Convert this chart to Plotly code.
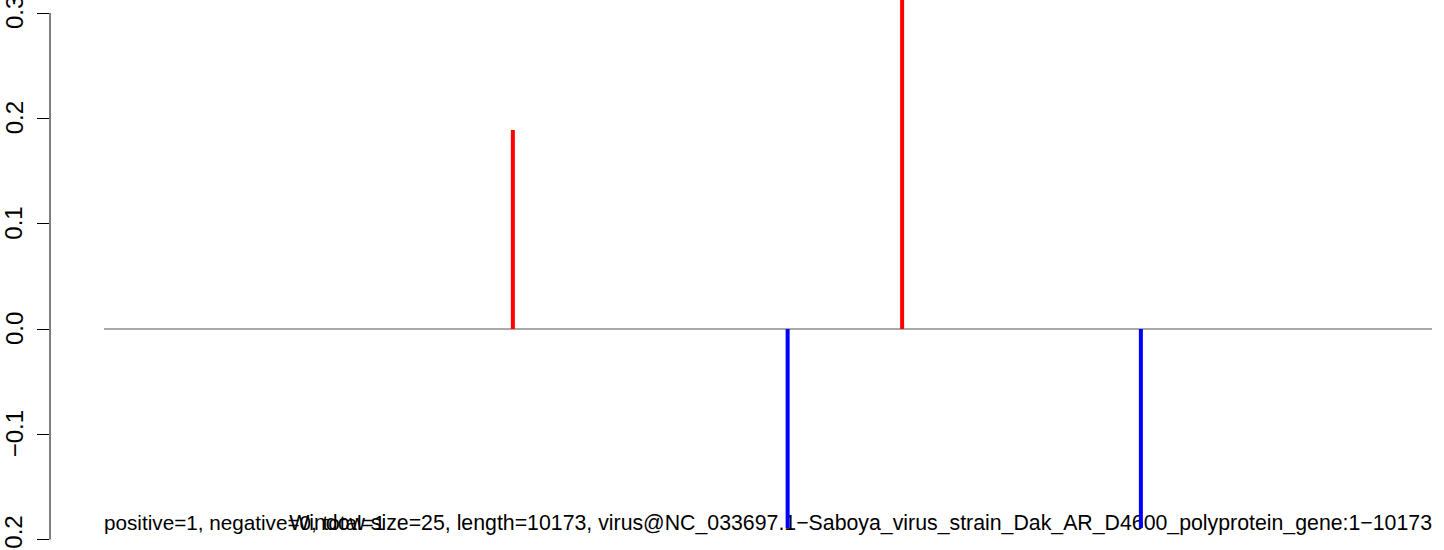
import plotly.graph_objects as go

# ---- data ----
n_windows = 407                      # 10173 / 25 windows
pos_x = [126, 245]                   # positive windows (red)
pos_y = [0.189, 0.36]
neg_x = [210, 318]                   # negative windows (blue)
neg_y = [-0.189, -0.189]
ytick_vals = [-0.2, -0.1, 0.0, 0.1, 0.2, 0.3]
ytick_text = ["\u22120.2", "\u22120.1", "0.0", "0.1", "0.2", "0.3"]
left_note = "positive=1, negative=0, total=1"
right_note = ("Window size=25, length=10173, virus@NC_033697.1\u2212Saboya_virus_strain_"
              "Dak_AR_D4600_polyprotein_gene:1\u221210173")

FONT = "Liberation Sans, Arial, Helvetica, sans-serif"
W, H = 1444, 550
ML = 50


def segs(xs, ys):
    X, Y = [], []
    for x, y in zip(xs, ys):
        X += [x, x, None]
        Y += [0, y, None]
    return X, Y


fig = go.Figure()

# baseline
fig.add_trace(go.Scatter(x=[1, n_windows], y=[0, 0], mode="lines",
                         line=dict(color="#555555", width=1), hoverinfo="skip"))

# bottom texts (drawn before bars so bars overlay them)
text_y = -0.186
fig.add_trace(go.Scatter(x=[1], y=[text_y], mode="text", text=[left_note],
                         textposition="middle right", cliponaxis=False,
                         textfont=dict(family=FONT, size=20.7, color="black"), hoverinfo="skip"))
fig.add_trace(go.Scatter(x=[n_windows], y=[text_y], mode="text", text=[right_note],
                         textposition="middle left", cliponaxis=False,
                         textfont=dict(family=FONT, size=21.3, color="black"), hoverinfo="skip"))

px_, py_ = segs(pos_x, pos_y)
fig.add_trace(go.Scatter(x=px_, y=py_, mode="lines", line=dict(color="#FF0000", width=4),
                         hoverinfo="skip"))
nx_, ny_ = segs(neg_x, neg_y)
fig.add_trace(go.Scatter(x=nx_, y=ny_, mode="lines", line=dict(color="#0000FF", width=4),
                         hoverinfo="skip"))

# x scale: window 1 -> 104 px, window 407 -> 1432 px; plot area 50..1444
ppu = (1432 - 104) / (n_windows - 1)
x_lo = 1 - (104 - ML) / ppu
x_hi = n_windows + (W - 1432) / ppu
# y scale: 0 -> 329 px, 0.3 -> 13 px
ppv = (329 - 13) / 0.3
y_hi = 329 / ppv
y_lo = -(H - 329) / ppv

plot_w = W - ML
label_x = -(ML - 14) / plot_w   # paper coord of tick-label centres (~14 px from left)

annotations = [dict(x=label_x, xref="paper", y=v, yref="y", text=t, showarrow=False,
                    textangle=-90, xanchor="center", yanchor="middle",
                    font=dict(family=FONT, size=24, color="black"))
               for v, t in zip(ytick_vals, ytick_text)]

fig.update_layout(
    width=W, height=H,
    margin=dict(l=ML, r=0, t=0, b=0),
    paper_bgcolor="white", plot_bgcolor="white",
    showlegend=False,
    font=dict(family=FONT, size=20, color="black"),
    xaxis=dict(range=[x_lo, x_hi], visible=False, showgrid=False, zeroline=False),
    yaxis=dict(range=[y_lo, y_hi], showgrid=False, zeroline=False, showline=False,
               tickmode="array", tickvals=ytick_vals, showticklabels=False,
               ticks="outside", ticklen=12, tickwidth=1, tickcolor="black",
               automargin=False),
    shapes=[dict(type="line", xref="paper", yref="y", x0=0, x1=0, y0=-0.2, y1=0.3,
                 line=dict(color="black", width=1), layer="above")],
    annotations=annotations,
)

fig.write_html("out.html", config={"displayModeBar": False},
               post_script="document.body.style.margin='0px';")
